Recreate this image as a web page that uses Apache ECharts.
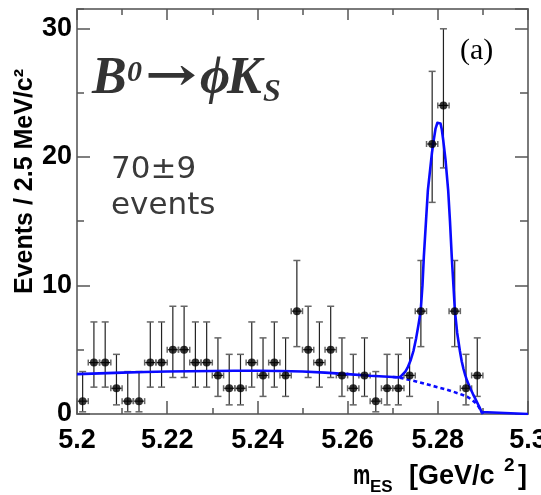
<!DOCTYPE html>
<html><head><meta charset="utf-8">
<script src="https://cdn.jsdelivr.net/npm/echarts@6/dist/echarts.min.js"></script>
<style>html,body{margin:0;padding:0;background:#fff}#c{width:541px;height:495px}</style>
</head><body><div id="c"></div>
<script>
// ---- data ----
const binCenters = [5.20125,5.20375,5.20625,5.20875,5.21125,5.21375,5.21625,5.21875,5.22125,5.22375,
  5.22625,5.22875,5.23125,5.23375,5.23625,5.23875,5.24125,5.24375,5.24625,5.24875,
  5.25125,5.25375,5.25625,5.25875,5.26125,5.26375,5.26625,5.26875,5.27125,5.27375,
  5.27625,5.27875,5.28125,5.28375,5.28625,5.28875];
const counts = [1,4,4,2,1,1,4,4,5,5,4,4,3,2,2,4,3,4,3,8,5,4,5,3,2,3,1,2,2,3,8,21,24,8,2,3];
const errLow = [0.17,2.09,2.09,0.71,0.17,0.17,2.09,2.09,2.84,2.84,2.09,2.09,1.37,0.71,0.71,2.09,1.37,2.09,1.37,5.24,
  2.84,2.09,2.84,1.37,0.71,1.37,0.17,0.71,0.71,1.37,5.24,16.46,19.14,5.24,0.71,1.37];
const errHigh = [3.30,7.16,7.16,4.64,3.30,3.30,7.16,7.16,8.38,8.38,7.16,7.16,5.92,4.64,4.64,7.16,5.92,7.16,5.92,11.94,
  8.38,7.16,8.38,5.92,4.64,5.92,3.30,4.64,4.64,5.92,11.94,26.65,29.96,11.94,4.64,5.92];
const totalCurve = [[5.200,3.10],[5.205,3.16],[5.210,3.22],[5.215,3.27],[5.220,3.30],[5.225,3.33],[5.230,3.35],
  [5.235,3.36],[5.240,3.36],[5.245,3.34],[5.250,3.30],[5.255,3.22],[5.260,3.10],[5.265,2.97],[5.2700,2.88],
  [5.2713,2.85],[5.2718,2.92],[5.2722,3.05],[5.2728,3.3],[5.2733,3.6],[5.2740,4.2],[5.2746,4.9],[5.2752,5.9],
  [5.2757,6.9],[5.2762,8.0],[5.2766,10.0],[5.2769,12.2],[5.2774,15.1],[5.2778,17.4],[5.2783,19.0],[5.2787,20.3],
  [5.2791,21.3],[5.2795,22.2],[5.2799,22.65],[5.2803,22.75],[5.2806,22.6],[5.2809,22.1],[5.2812,21.3],
  [5.2817,19.8],[5.2823,17.4],[5.2827,15.0],[5.2831,12.2],[5.2835,9.8],[5.2838,8.0],[5.2843,6.3],[5.2849,4.9],
  [5.2853,4.1],[5.2857,3.5],[5.2861,3.0],[5.2865,2.58],[5.2870,2.15],[5.2874,1.85],[5.2878,1.55],[5.2882,1.27],
  [5.2886,0.98],[5.2890,0.7],[5.2894,0.4],[5.2897,0.15],[5.2900,0],[5.3000,0]];
const bkgCurve = [[5.2700,2.88],[5.2713,2.85],[5.2750,2.55],[5.2785,2.22],[5.2820,1.9],[5.2850,1.55],
  [5.2865,1.35],[5.2875,1.12],[5.2884,0.85],[5.2890,0.6],[5.2896,0.25],[5.2900,0]];
const xRange = [5.2, 5.3];
const yRange = [0, 31.5];

const SANS = 'Liberation Sans';
const axisLine = {show:true, onZero:false, lineStyle:{color:'#7a7a7a', width:2}};
const tickStyle = {color:'#555', width:1.5};

const chart = echarts.init(document.getElementById('c'), null, {renderer:'canvas'});
chart.setOption({
  animation:false,
  backgroundColor:'#fff',
  grid:{left:77, right:13, top:9, bottom:81, containLabel:false, outerBoundsMode:'none'},
  xAxis:[
    {type:'value', min:xRange[0], max:xRange[1], interval:0.02, position:'bottom',
     axisLine:axisLine, splitLine:{show:false},
     axisTick:{inside:true, length:13, lineStyle:tickStyle},
     minorTick:{show:true, splitNumber:2, length:6, lineStyle:tickStyle},
     axisLabel:{color:'#000', fontFamily:SANS, fontWeight:'bold', fontSize:27, margin:13,
       formatter:v=>String(parseFloat(v.toFixed(2)))}},
    {type:'value', min:xRange[0], max:xRange[1], interval:0.02, position:'top',
     axisLine:axisLine, splitLine:{show:false},
     axisTick:{inside:true, length:11, lineStyle:tickStyle},
     minorTick:{show:true, splitNumber:2, length:6, lineStyle:tickStyle},
     axisLabel:{show:false}}
  ],
  yAxis:[
    {type:'value', min:yRange[0], max:yRange[1], interval:10, position:'left',
     axisLine:axisLine, splitLine:{show:false},
     axisTick:{inside:true, length:13, lineStyle:tickStyle},
     axisLabel:{color:'#000', fontFamily:SANS, fontWeight:'bold', fontSize:27, margin:5,
       showMaxLabel:false, formatter:v=>(Math.abs(v%10)<1e-9?String(v):'')}},
    {type:'value', min:yRange[0], max:yRange[1], interval:5, position:'left',
     axisLine:{show:false, onZero:false}, splitLine:{show:false},
     axisTick:{inside:true, length:7, lineStyle:tickStyle}, axisLabel:{show:false}},
    {type:'value', min:yRange[0], max:yRange[1], interval:10, position:'right',
     axisLine:axisLine, splitLine:{show:false},
     axisTick:{inside:true, length:13, lineStyle:tickStyle}, axisLabel:{show:false}},
    {type:'value', min:yRange[0], max:yRange[1], interval:5, position:'right',
     axisLine:{show:false, onZero:false}, splitLine:{show:false},
     axisTick:{inside:true, length:8, lineStyle:tickStyle}, axisLabel:{show:false}}
  ],
  series:[
    {type:'custom', xAxisIndex:0, yAxisIndex:0, z:2,
     data: binCenters.map((x,i)=>[x, counts[i], errLow[i], errHigh[i]]),
     encode:{x:0, y:1},
     renderItem:function(params, api){
       const x = api.value(0), y = api.value(1);
       const p = api.coord([x,y]);
       const pl = api.coord([x, api.value(2)]);
       const ph = api.coord([x, api.value(3)]);
       const hw = api.size([0.00125, 0])[0];
       const c = 3.5, cs = {stroke:'#666', lineWidth:1.5}, ls = {stroke:'#222', lineWidth:1.2};
       return {type:'group', children:[
         {type:'line', shape:{x1:p[0], y1:pl[1], x2:p[0], y2:ph[1]}, style:ls},
         {type:'line', shape:{x1:p[0]-c, y1:ph[1], x2:p[0]+c, y2:ph[1]}, style:cs},
         {type:'line', shape:{x1:p[0]-c, y1:pl[1], x2:p[0]+c, y2:pl[1]}, style:cs},
         {type:'line', shape:{x1:p[0]-hw, y1:p[1], x2:p[0]+hw, y2:p[1]}, style:ls},
         {type:'line', shape:{x1:p[0]-hw, y1:p[1]-3, x2:p[0]-hw, y2:p[1]+3}, style:cs},
         {type:'line', shape:{x1:p[0]+hw, y1:p[1]-3, x2:p[0]+hw, y2:p[1]+3}, style:cs}
       ]};
     }},
    {type:'line', xAxisIndex:0, yAxisIndex:0, z:3, data:bkgCurve, showSymbol:false, smooth:false,
     lineStyle:{color:'#0a0aff', width:2.6, type:[4,3]}},
    {type:'line', xAxisIndex:0, yAxisIndex:0, z:4, data:totalCurve, showSymbol:false, smooth:false,
     lineStyle:{color:'#0a0aff', width:2.6, join:'round'}},
    {type:'scatter', xAxisIndex:0, yAxisIndex:0, z:5, symbolSize:8, itemStyle:{color:'#000'},
     data: binCenters.map((x,i)=>[x, counts[i]])}
  ],
  graphic:[
    // formula B0 -> phi K_S
    {type:'text', x:92, y:80, style:{text:'B', font:'italic bold 52px "Liberation Serif"', fill:'#333', align:'left', verticalAlign:'middle'}},
    {type:'text', x:127, y:73, style:{text:'0', font:'italic bold 30px "Liberation Serif"', fill:'#333', align:'left', verticalAlign:'middle'}},
    {type:'text', x:145, y:78, scaleX:1.35, style:{text:'\u2192', font:'bold 46px "DejaVu Serif"', fill:'#333', align:'left', verticalAlign:'middle'}},
    {type:'text', x:200, y:80, style:{text:'\u03D5', font:'italic bold 52px "Liberation Serif"', fill:'#333', align:'left', verticalAlign:'middle'}},
    {type:'text', x:227, y:80, style:{text:'K', font:'italic bold 52px "Liberation Serif"', fill:'#333', align:'left', verticalAlign:'middle'}},
    {type:'text', x:263, y:93, style:{text:'S', font:'italic bold 32px "Liberation Serif"', fill:'#333', align:'left', verticalAlign:'middle'}},
    // yield
    {type:'text', x:111, y:170, style:{text:'70\u00B19', font:'31px "DejaVu Sans"', fill:'#3a3a3a', align:'left', verticalAlign:'middle'}},
    {type:'text', x:111, y:206, style:{text:'events', font:'31px "DejaVu Sans"', fill:'#3a3a3a', align:'left', verticalAlign:'middle'}},
    // (a)
    {type:'text', x:460, y:51, style:{text:'(a)', font:'30px "Liberation Serif"', fill:'#000', align:'left', verticalAlign:'middle'}},
    // y axis title
    {type:'text', x:25, y:294, rotation:Math.PI/2, style:{text:'Events / 2.5 MeV/c\u00B2', font:'bold 25px "Liberation Sans"', fill:'#000', align:'left', verticalAlign:'middle'}},
    // x axis title
    {type:'text', x:353, y:477, scaleX:0.72, style:{text:'m', font:'bold 27px "Liberation Sans"', fill:'#000', align:'left', verticalAlign:'middle'}},
    {type:'text', x:370, y:487, style:{text:'ES', font:'bold 17px "Liberation Sans"', fill:'#000', align:'left', verticalAlign:'middle'}},
    {type:'text', x:409, y:477, style:{text:'[GeV/c', font:'bold 27px "Liberation Sans"', fill:'#000', align:'left', verticalAlign:'middle'}},
    {type:'text', x:504, y:466, style:{text:'2', font:'bold 19px "Liberation Sans"', fill:'#000', align:'left', verticalAlign:'middle'}},
    {type:'text', x:518, y:477, style:{text:']', font:'bold 27px "Liberation Sans"', fill:'#000', align:'left', verticalAlign:'middle'}}
  ]
});
</script></body></html>
